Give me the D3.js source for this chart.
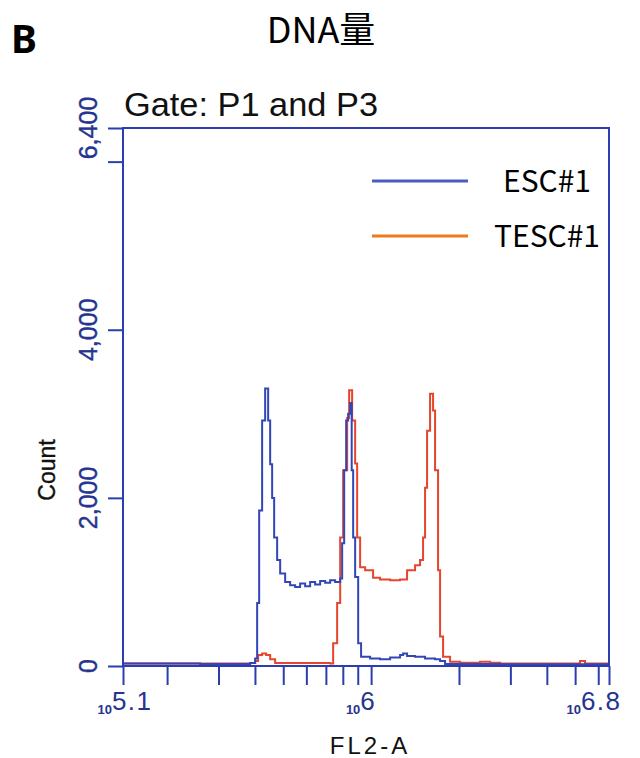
<!DOCTYPE html>
<html>
<head>
<meta charset="utf-8">
<script src="https://cdn.jsdelivr.net/npm/d3@7"></script>
<style>
  body { margin: 0; background: #fff; }
  svg text { font-family: "Liberation Sans", Arial, sans-serif; }
  .cjk { font-family: "Noto Sans CJK JP", "Noto Sans", sans-serif; }
</style>
</head>
<body>
<svg id="chart" viewBox="0 0 640 758" width="640" height="758"></svg>
<script>
// FL2-A channel values (linear units) and counts
const escFL2 = [141500, 259700, 385100, 400600, 407000, 413500, 423300, 433500, 443900, 451000,
  458100, 465400, 476500, 488000, 507600, 528000, 549200, 571200, 594300, 618200, 643000,
  668900, 695800, 723800, 752900, 783500, 795800, 808500, 821300, 834300, 847600, 858000,
  868000, 881700, 903000, 924000, 992200, 1073500, 1161600, 1256700, 1286800, 1328000,
  1414500, 1530500, 1656300, 1722900, 1792300, 2766000, 6533000];
const escCount = [30, 25, 35, 90, 750, 1850, 2920, 3300, 2920, 2400,
  2000, 1530, 1260, 1100, 1000, 960, 940, 980, 950, 1000, 970,
  1010, 990, 1020, 1000, 1040, 1460, 2330, 2920, 3000, 3130, 2330,
  1530, 1060, 270, 110, 90, 80, 100, 130, 150, 120,
  110, 90, 80, 60, 25, 20, 20];

const tescFL2 = [141500, 259700, 385100, 400600, 410200, 423300, 436900, 451000, 469000, 723800,
  741200, 764900, 783500, 802100, 827800, 840900, 861000, 881700, 895700, 917000, 953900,
  1015800, 1073500, 1161600, 1256700, 1328000, 1414500, 1471300, 1506600, 1530500, 1555000,
  1592300, 1630300, 1656300, 1696000, 1722900, 1764300, 1864300, 2017800, 2361600, 2556000,
  2766000, 4995000, 5197000, 5405000, 6533000];
const tescCount = [30, 30, 35, 60, 130, 150, 130, 80, 35, 30,
  270, 750, 1530, 2330, 2950, 3280, 2920, 2410, 1530, 1175, 1140,
  1050, 1030, 1020, 1030, 1140, 1200, 1260, 1530, 2120, 2800,
  3240, 3040, 2330, 1140, 350, 110, 50, 40, 50, 40,
  30, 30, 60, 30, 30];

const seriesNames = ["ESC#1", "TESC#1"];
const xDomain = [Math.pow(10, 5.15), Math.pow(10, 6.815)];
const xEdgeLabels = ["5.1", "6.8"];
const xMinorTicks = [2e5, 3e5, 4e5, 5e5, 6e5, 7e5, 8e5, 9e5, 2e6, 3e6, 4e6, 5e6, 6e6];
const xMajorTicks = [1e6];
const yTicks = [0, 2000, 4000, 6000, 6400];
const yTickLabels = ["0", "2,000", "4,000", "", "6,400"];

const svg = d3.select("#chart");
const frameBlue = "#2b3db0";
const labelBlue = "#26348f";
const escColor = "#3346b8";
const tescColor = "#e5452c";

const x = d3.scaleLog().domain(xDomain).range([123, 609]);
const y = d3.scaleLinear().domain([0, 6400]).range([666, 128]);

// headings
svg.append("text").attr("x", 11).attr("y", 53)
  .attr("font-size", 39).attr("font-weight", "bold").attr("fill", "#000")
  .style("font-family", "'Noto Sans', sans-serif").text("B");
svg.append("text").attr("class", "cjk").attr("x", 321).attr("y", 43)
  .attr("text-anchor", "middle").attr("font-size", 36).attr("fill", "#000").text("DNA量");
svg.append("text").attr("x", 124).attr("y", 116)
  .attr("font-size", 33).attr("fill", "#111").attr("textLength", 254)
  .attr("lengthAdjust", "spacingAndGlyphs")
  .text("Gate: P1 and P3");

// histograms
const line = d3.line()
  .x(d => x(d[0]))
  .y(d => y(d[1]))
  .curve(d3.curveStepAfter);

const plot = svg.append("g");
plot.append("path")
  .datum(d3.zip(tescFL2, tescCount))
  .attr("fill", "none").attr("stroke", tescColor).attr("stroke-width", 2)
  .attr("d", line);
plot.append("path")
  .datum(d3.zip(escFL2, escCount))
  .attr("fill", "none").attr("stroke", escColor).attr("stroke-width", 2)
  .attr("d", line);

// frame
svg.append("rect")
  .attr("x", x.range()[0]).attr("y", y.range()[1])
  .attr("width", x.range()[1] - x.range()[0])
  .attr("height", y.range()[0] - y.range()[1])
  .attr("fill", "none").attr("stroke", frameBlue).attr("stroke-width", 2);

// x axis
const xAxis = svg.append("g").attr("transform", `translate(0,${y(0)})`)
  .call(d3.axisBottom(x).tickValues(xMinorTicks.concat(xMajorTicks, xDomain))
    .tickSize(19).tickFormat(""));
xAxis.select(".domain").remove();
xAxis.selectAll(".tick line").attr("stroke", frameBlue).attr("stroke-width", 2);

const xLabels = [
  { v: xDomain[0], t: xEdgeLabels[0], dx: 2 },
  { v: xMajorTicks[0], t: "6", dx: -10 },
  { v: xDomain[1], t: xEdgeLabels[1], dx: -15 }
];
xLabels.forEach(l => {
  const t = svg.append("text")
    .attr("x", x(l.v) + l.dx).attr("y", 714)
    .attr("text-anchor", "middle").attr("fill", labelBlue);
  t.append("tspan").attr("font-size", 13).attr("font-weight", "bold").attr("dy", 0).text("10");
  t.append("tspan").attr("font-size", 26).attr("letter-spacing", 1.5).attr("dy", -4).text(l.t);
});

svg.append("text").attr("x", 370).attr("y", 754)
  .attr("text-anchor", "middle").attr("font-size", 24).attr("fill", "#111")
  .attr("letter-spacing", 3).text("FL2-A");

// y axis
const yAxis = svg.append("g").attr("transform", `translate(${x.range()[0]},0)`)
  .call(d3.axisLeft(y).tickValues(yTicks).tickSize(15).tickFormat(""));
yAxis.select(".domain").remove();
yAxis.selectAll(".tick line").attr("stroke", frameBlue).attr("stroke-width", 2);

yTicks.forEach((v, i) => {
  if (!yTickLabels[i]) return;
  svg.append("text")
    .attr("transform", `translate(97,${y(v)}) rotate(-90)`)
    .attr("text-anchor", "middle").attr("font-size", 25).attr("fill", labelBlue)
    .attr("stroke", labelBlue).attr("stroke-width", 0.4)
    .text(yTickLabels[i]);
});

svg.append("text")
  .attr("transform", `translate(55,470) rotate(-90)`)
  .attr("text-anchor", "middle").attr("font-size", 23).attr("fill", "#111")
  .attr("stroke", "#111").attr("stroke-width", 0.4)
  .text("Count");

// legend
const legendColors = ["#4a5cc4", "#ee7a1e"];
seriesNames.forEach((name, i) => {
  const ly = 181 + i * 55;
  svg.append("line").attr("x1", 372).attr("x2", 468)
    .attr("y1", ly).attr("y2", ly)
    .attr("stroke", legendColors[i]).attr("stroke-width", 3);
  svg.append("text").attr("class", "cjk")
    .attr("x", 547).attr("y", ly + 11)
    .attr("text-anchor", "middle").attr("font-size", 30).attr("fill", "#000")
    .text(name);
});
</script>
</body>
</html>
